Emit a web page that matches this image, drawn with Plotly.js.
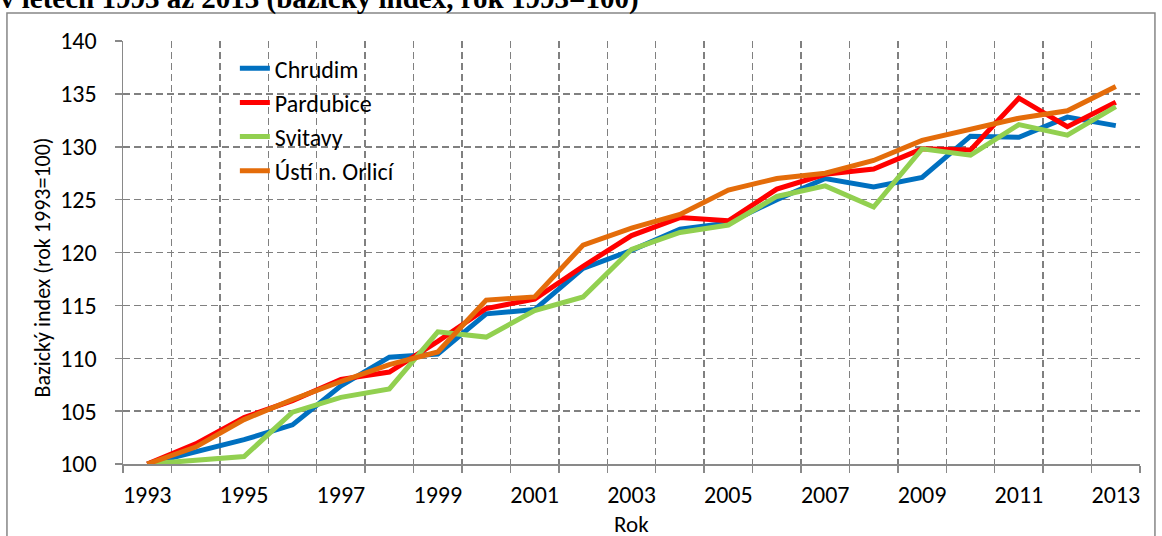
<!DOCTYPE html>
<html>
<head>
<meta charset="utf-8">
<script src="https://cdn.plot.ly/plotly-3.0.1.min.js"></script>
<style>html,body{margin:0;padding:0;background:#fff;}#chart{width:1162px;height:536px;}</style>
</head>
<body>
<div id="chart"></div>
<script>
const years = [1993,1994,1995,1996,1997,1998,1999,2000,2001,2002,2003,2004,2005,2006,2007,2008,2009,2010,2011,2012,2013];
const labelYears = [1993,1995,1997,1999,2001,2003,2005,2007,2009,2011,2013];
const seriesNames = ["Chrudim","Pardubice","Svitavy","Ústí n. Orlicí"];
const chrudim   = [100,101.2,102.3,103.7,107.4,110.1,110.4,114.2,114.6,118.5,120.2,122.2,122.8,125.0,127.0,126.2,127.1,131.0,130.9,132.8,132.0];
const pardubice = [100,101.9,104.4,106.0,108.0,108.7,111.6,114.7,115.6,118.7,121.6,123.3,123.0,126.0,127.4,127.9,129.8,129.7,134.6,131.9,134.2];
const svitavy   = [100,100.4,100.7,104.9,106.3,107.1,112.5,112.0,114.5,115.8,120.3,121.9,122.6,125.3,126.3,124.3,129.8,129.2,132.1,131.1,133.8];
const usti      = [100,101.6,104.2,106.1,107.8,109.4,110.6,115.5,115.8,120.7,122.3,123.6,125.9,127.0,127.5,128.7,130.6,131.7,132.7,133.4,135.7];
const yTicks = [100,105,110,115,120,125,130,135,140];

const colors = ["#0070C0","#FF0000","#92D050","#E46C0A"];
const allSeries = [chrudim, pardubice, svitavy, usti];
const FONT = "Calibri, Carlito, Lato, sans-serif";
const GRID = "#808080";
const AXIS = "#898989";

const traces = allSeries.map((vals, i) => ({
  type: "scatter", mode: "lines", name: seriesNames[i],
  x: years, y: vals, legendgroup: "g" + i,
  line: {color: colors[i], width: 5},
  hoverinfo: "x+y+name"
}));

const layout = {
  width: 1162, height: 536,
  margin: {l: 123, r: 22, t: 41, b: 72, pad: 0},
  paper_bgcolor: "#ffffff", plot_bgcolor: "#ffffff",
  font: {family: FONT, size: 24, color: "#000000"},
  showlegend: true,
  legend: {x: 0.110, y: 0.988, xanchor: "left", yanchor: "top",
           bgcolor: "rgba(0,0,0,0)", font: {family: FONT, size: 24, color: "#000"},
           tracegroupgap: 11, traceorder: "normal"},
  xaxis: {
    range: [1992.5, 2013.5], tickmode: "array", tickvals: labelYears,
    ticktext: labelYears.map(String), ticks: "", showgrid: false, zeroline: false,
    showline: true, linecolor: AXIS, linewidth: 1.5,
    tickfont: {family: FONT, size: 24}, ticklabelstandoff: 9,
    minor: {tick0: 1992.5, dtick: 1, ticks: "outside", ticklen: 7, tickwidth: 1.5,
            tickcolor: AXIS, showgrid: true, gridcolor: GRID, gridwidth: 1.5, griddash: "7px,4px"}
  },
  yaxis: {
    range: [100, 140], tickmode: "array", tickvals: yTicks, ticktext: yTicks.map(String),
    ticks: "outside", ticklen: 7, tickwidth: 1.5, tickcolor: AXIS,
    showgrid: true, gridcolor: GRID, gridwidth: 1.5, griddash: "7px,4px",
    zeroline: false, showline: true, linecolor: AXIS, linewidth: 1.5,
    tickfont: {family: FONT, size: 24}, ticklabelstandoff: 13
  },
  annotations: [
    {text: "Bazický index (rok 1993=100)", textangle: -90, xref: "paper", yref: "paper",
     x: -0.0787, y: 0.4645, xanchor: "center", yanchor: "middle", showarrow: false,
     font: {family: FONT, size: 22, color: "#000"}},
    {text: "Rok", xref: "paper", yref: "paper",
     x: 0.5, y: -0.141, xanchor: "center", yanchor: "middle", showarrow: false,
     font: {family: FONT, size: 23, color: "#000"}},
    {text: "<b>v letech 1993 až 2013 (bazický index, rok 1993=100)</b>", xref: "paper", yref: "paper",
     x: -0.123, y: 1.0995, xanchor: "left", yanchor: "middle", showarrow: false,
     font: {family: "Liberation Serif, Times New Roman, serif", size: 29, color: "#000"}}
  ],
  shapes: [
    {type: "rect", xref: "paper", yref: "paper", x0: -0.1141, x1: 1.0147, y0: -0.25, y1: 1.0662,
     line: {color: "#868686", width: 1.5}, fillcolor: "rgba(0,0,0,0)", layer: "below"}
  ]
};

Plotly.newPlot("chart", traces, layout, {displayModeBar: false, staticPlot: true});
</script>
</body>
</html>
